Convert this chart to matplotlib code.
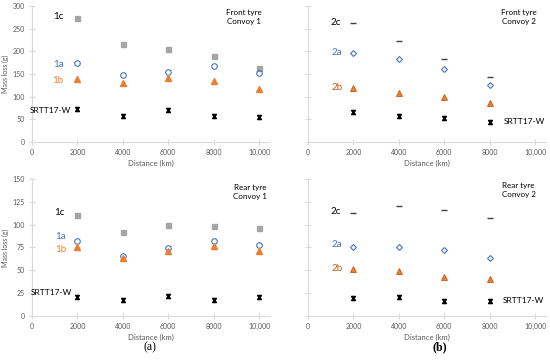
import matplotlib
matplotlib.use('Agg')
import matplotlib.pyplot as plt
from matplotlib.path import Path
from matplotlib.ticker import FuncFormatter

plt.rcParams['font.family'] = ['Lato', 'DejaVu Sans']

# distances (km)
dist1 = [2000, 4000, 6000, 8000, 10000]
dist2 = [2000, 4000, 6000, 8000]

# front tyre, convoy 1
f1c = [273, 216, 206, 189, 164]
f1a = [175, 147, 155, 167, 152]
f1b = [139, 130, 142, 134, 117]
f1s = [73, 58, 70, 57, 56]

# front tyre, convoy 2
f2c = [263, 223, 182, 144]
f2a = [196, 184, 162, 125]
f2b = [118, 108, 100, 86]
f2s = [67, 57, 52, 43]

# rear tyre, convoy 1
r1c = [111, 92, 100, 99, 96]
r1a = [82, 66, 74, 82, 78]
r1b = [75, 64, 71, 77, 71]
r1s = [21, 18, 22, 17, 21]

# rear tyre, convoy 2
r2c = [113, 120, 116, 107]
r2a = [75, 76, 72, 63]
r2b = [51, 49, 43, 41]
r2s = [20, 21, 16, 16]

GRAY = '#a5a5a5'
BLUE = '#4472c4'
ORANGE = '#ed7d31'
BROWN = '#c55a11'
AXC = '#d9d9d9'
TXC = '#595959'

# x with caps marker (like the excel one)
xcap = Path([(-1, -1), (1, 1), (-1, 1), (1, -1), (-1, 1), (1, 1), (-1, -1), (1, -1)],
            [Path.MOVETO, Path.LINETO] * 4)


def fmt(v, pos):
    return f'{int(v):,}' if v >= 10000 else str(int(v))


def style(ax, ymax, ystep, ylabels):
    ax.set_xlim(0, 10500)
    ax.set_ylim(0, ymax)
    ax.set_xticks([0, 2000, 4000, 6000, 8000, 10000])
    ax.set_yticks(range(0, ymax + 1, ystep))
    ax.xaxis.set_major_formatter(FuncFormatter(fmt))
    for s in ['top', 'right']:
        ax.spines[s].set_visible(False)
    for s in ['left', 'bottom']:
        ax.spines[s].set_color(AXC)
        ax.spines[s].set_linewidth(0.8)
    ax.tick_params(direction='inout', length=4, width=0.8, color=AXC,
                   labelsize=5, labelcolor=TXC, pad=3)
    if not ylabels:
        ax.tick_params(axis='y', labelleft=False)
    else:
        ax.set_ylabel('Mass loss (g)', fontsize=5, color=TXC, labelpad=3)
    ax.set_xlabel('Distance (km)', fontsize=5.5, color=TXC, labelpad=3)
    ax.patch.set_alpha(0)


fig = plt.figure(figsize=(5.5, 3.6), dpi=100)
ax1 = fig.add_axes([0.0582, 0.6056, 0.4335, 0.3778])
ax2 = fig.add_axes([0.56, 0.6056, 0.4335, 0.3778])
ax3 = fig.add_axes([0.0582, 0.1222, 0.4335, 0.3806])
ax4 = fig.add_axes([0.56, 0.1222, 0.4335, 0.3806])

# convoy 1 panels
for ax, c, a, b, s in [(ax1, f1c, f1a, f1b, f1s), (ax3, r1c, r1a, r1b, r1s)]:
    ax.plot(dist1, c, ls='none', marker='s', ms=3.6, color=GRAY)
    ax.plot(dist1, a, ls='none', marker='o', ms=4, mfc='none', mec=BLUE, mew=0.8)
    ax.plot(dist1, b, ls='none', marker='^', ms=4, color=ORANGE)
    ax.plot(dist1, s, ls='none', marker=xcap, ms=3, mfc='none', mec='black', mew=1)

# convoy 2 panels
for ax, c, a, b, s in [(ax2, f2c, f2a, f2b, f2s), (ax4, r2c, r2a, r2b, r2s)]:
    ax.plot(dist2, c, ls='none', marker='_', ms=4.5, mec='#404040', mew=1)
    ax.plot(dist2, a, ls='none', marker='D', ms=3, mfc='none', mec=BLUE, mew=0.8)
    ax.plot(dist2, b, ls='none', marker='^', ms=4, mfc=ORANGE, mec=BROWN, mew=0.6)
    ax.plot(dist2, s, ls='none', marker=xcap, ms=3, mfc='none', mec='black', mew=1)

style(ax1, 300, 50, True)
style(ax2, 300, 50, False)
style(ax3, 150, 25, True)
style(ax4, 150, 25, False)

fs = 6
fl = 7
ax1.text(1150, 277, '1c', fontsize=fl, ha='center', va='center', color='black')
ax1.text(1150, 170, '1a', fontsize=fl, ha='center', va='center', color=BLUE)
ax1.text(1150, 136, '1b', fontsize=fl, ha='center', va='center', color=ORANGE)
ax1.text(1720, 70, 'SRTT17-W', fontsize=fs, ha='right', va='center', color='black')
ax1.text(9330, 276, 'Front tyre\nConvoy 1', fontsize=5.8, ha='center', va='center', linespacing=1.4)

ax2.text(1230, 264, '2c', fontsize=fl, ha='center', va='center', color='black')
ax2.text(1280, 198, '2a', fontsize=fl, ha='center', va='center', color=BLUE)
ax2.text(1280, 121, '2b', fontsize=fl, ha='center', va='center', color=BROWN)
ax2.text(8620, 46, 'SRTT17-W', fontsize=fs, ha='left', va='center', color='black')
ax2.text(9280, 276, 'Front tyre\nConvoy 2', fontsize=5.8, ha='center', va='center', linespacing=1.4)

ax3.text(1190, 113, '1c', fontsize=fl, ha='center', va='center', color='black')
ax3.text(1240, 86.5, '1a', fontsize=fl, ha='center', va='center', color=BLUE)
ax3.text(1260, 73, '1b', fontsize=fl, ha='center', va='center', color=ORANGE)
ax3.text(1760, 26, 'SRTT17-W', fontsize=fs, ha='right', va='center', color='black')
ax3.text(9600, 136, 'Rear tyre\nConvoy 1', fontsize=5.8, ha='center', va='center', linespacing=1.4)

ax4.text(1240, 114, '2c', fontsize=fl, ha='center', va='center', color='black')
ax4.text(1280, 78, '2a', fontsize=fl, ha='center', va='center', color=BLUE)
ax4.text(1300, 51.5, '2b', fontsize=fl, ha='center', va='center', color=BROWN)
ax4.text(8580, 17.5, 'SRTT17-W', fontsize=fs, ha='left', va='center', color='black')
ax4.text(9280, 138, 'Rear tyre\nConvoy 2', fontsize=5.8, ha='center', va='center', linespacing=1.4)

fig.text(150 / 550, 1 - 347 / 360, '(a)', fontsize=8.5, family='Liberation Serif',
         ha='center', va='center')
fig.text(440 / 550, 1 - 347 / 360, '(b)', fontsize=8.5, family='Liberation Serif',
         ha='center', va='center', fontweight='bold')

fig.savefig('out.png', dpi=100)
